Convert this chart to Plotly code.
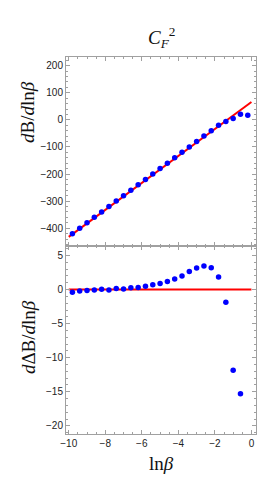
import plotly.graph_objects as go
from plotly.subplots import make_subplots

# ---- data ----
ln_beta_top = [-9.8, -9.4, -9.0, -8.6, -8.2, -7.8, -7.4, -7.0, -6.6, -6.2, -5.8, -5.4, -5.0,
               -4.6, -4.2, -3.8, -3.4, -3.0, -2.6, -2.2, -1.8, -1.4, -1.0, -0.6, -0.2]
dB_top = [-421, -400, -380, -360, -340, -320, -300, -280, -260, -240, -220, -200, -180,
          -160, -140, -120, -100, -80, -60, -40, -20, -6, 5, 21, 17]

ln_beta_bot = [-9.8, -9.4, -9.0, -8.6, -8.2, -7.8, -7.4, -7.0, -6.6, -6.2, -5.8, -5.4, -5.0,
               -4.6, -4.2, -3.8, -3.4, -3.0, -2.6, -2.2, -1.8, -1.4, -1.0, -0.6]
dDB_bot = [-0.4, -0.2, -0.15, -0.05, 0.05, -0.05, 0.15, 0.1, 0.25, 0.3, 0.5, 0.7, 0.9,
           1.2, 1.55, 2.0, 2.65, 3.15, 3.45, 3.2, 1.85, -1.85, -11.85, -15.3]

fit_x = [-10.0, 0.0]
fit_top = [-432, 66]
fit_bot = [0.0, 0.0]

x_ticks = [-10, -8, -6, -4, -2, 0]
top_ticks = [-400, -300, -200, -100, 0, 100, 200]
bot_ticks = [-20, -15, -10, -5, 0, 5]

fig = make_subplots(rows=2, cols=1, shared_xaxes=False, vertical_spacing=0)

blue = "#0000ff"
red = "#ff0000"

fig.add_trace(go.Scatter(x=fit_x, y=fit_top, mode="lines", line=dict(color=red, width=2),
                         showlegend=False), row=1, col=1)
fig.add_trace(go.Scatter(x=ln_beta_top, y=dB_top, mode="markers",
                         marker=dict(color=blue, size=5.5), showlegend=False), row=1, col=1)
fig.add_trace(go.Scatter(x=fit_x, y=fit_bot, mode="lines", line=dict(color=red, width=2),
                         showlegend=False), row=2, col=1)
fig.add_trace(go.Scatter(x=ln_beta_bot, y=dDB_bot, mode="markers",
                         marker=dict(color=blue, size=5.5), showlegend=False), row=2, col=1)

frame = "#a0a0a0"
tickfont = dict(family="Liberation Sans, Arial, sans-serif", size=10, color="#222")
axis_common = dict(showgrid=False, zeroline=False, showline=True, linecolor=frame, linewidth=1,
                   mirror="ticks", ticks="inside", ticklen=4, tickcolor=frame, tickwidth=1,
                   tickfont=tickfont)

fig.update_xaxes(range=[-10.15, 0.25], tickvals=x_ticks,
                 ticktext=["\u221210", "\u22128", "\u22126", "\u22124", "\u22122", "0"],
                 minor=dict(dtick=0.5, tick0=0, ticks="inside", ticklen=2, tickcolor=frame),
                 **axis_common)
fig.update_xaxes(showticklabels=False, row=1, col=1)
fig.update_yaxes(range=[-464, 232], tickvals=top_ticks,
                 ticktext=["\u2212400", "\u2212300", "\u2212200", "\u2212100", "0", "100", "200"],
                 minor=dict(dtick=20, tick0=0, ticks="inside", ticklen=2, tickcolor=frame),
                 row=1, col=1, **axis_common)
fig.update_yaxes(range=[-21.2, 6.47], tickvals=bot_ticks,
                 ticktext=["\u221220", "\u221215", "\u221210", "\u22125", "0", "5"],
                 minor=dict(dtick=1, tick0=0, ticks="inside", ticklen=2, tickcolor=frame),
                 row=2, col=1, **axis_common)

fig.update_layout(yaxis=dict(domain=[0.5, 1.0]), yaxis2=dict(domain=[0.0, 0.5]))

serif = dict(family="Liberation Serif, Times New Roman, serif", size=19, color="#111")
ann = [
    dict(text="<i>C</i><sub><i>F</i></sub><sup>2</sup>", x=0.5, y=1.053, xref="paper", yref="paper",
         showarrow=False, font=serif, xanchor="center", yanchor="middle"),
    dict(text="<i>d</i>B/<i>d</i>ln<i>\u03b2</i>", x=-0.206, y=0.854, xref="paper", yref="paper",
         showarrow=False, font=serif, textangle=-90, xanchor="center", yanchor="middle"),
    dict(text="<i>d</i>\u0394B/<i>d</i>ln<i>\u03b2</i>", x=-0.2, y=0.257, xref="paper", yref="paper",
         showarrow=False, font=serif, textangle=-90, xanchor="center", yanchor="middle"),
    dict(text="ln<i>\u03b2</i>", x=0.501, y=-0.077, xref="paper", yref="paper",
         showarrow=False, font=serif, xanchor="center", yanchor="middle"),
]
fig.update_layout(width=266, height=486, margin=dict(l=66, r=10, t=57, b=52),
                  paper_bgcolor="white", plot_bgcolor="white", annotations=ann)

fig.write_html("out.html", config={"displayModeBar": False},
               post_script="document.body.style.margin='0px';document.body.style.padding='0px';")
